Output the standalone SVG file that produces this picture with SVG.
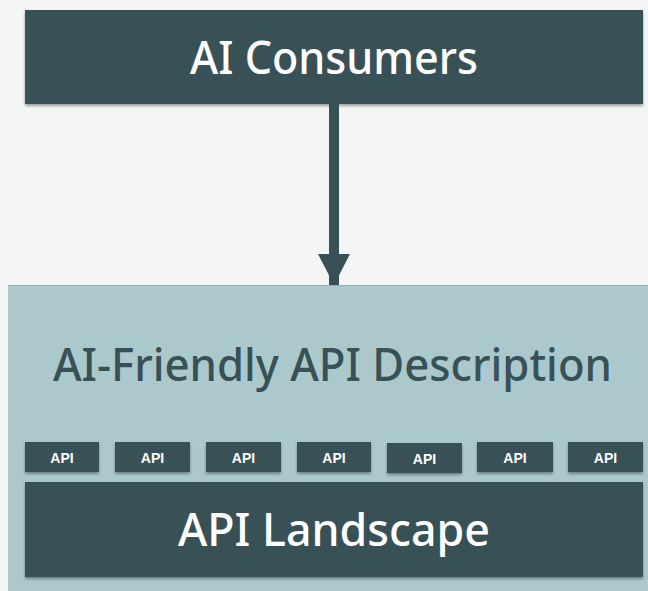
<svg xmlns="http://www.w3.org/2000/svg" width="648" height="591" viewBox="0 0 648 591">
  <defs>
    <filter id="sh" x="-5%" y="-10%" width="110%" height="130%">
      <feDropShadow dx="0" dy="2" stdDeviation="1.5" flood-color="#000" flood-opacity="0.35"/>
    </filter>
    <marker id="ah" markerUnits="userSpaceOnUse" markerWidth="32" markerHeight="32" refX="31" refY="16" orient="auto">
      <path d="M0,0 L31,16 L0,32 Z" fill="#385156"/>
    </marker>
  </defs>
  <style>
    .dark { fill: #385156; }
    .big { font-family: "Noto Sans", "DejaVu Sans", sans-serif; font-size: 46px; font-weight: 500; text-anchor: middle; }
    .api { font-family: "Liberation Sans", Arial, sans-serif; font-size: 14px; font-weight: bold; fill: #ffffff; text-anchor: middle; }
  </style>
  <rect x="0" y="0" width="648" height="591" fill="#f4f6f6"/>

  <g id="ai-friendly-api-description">
    <rect x="8" y="285" width="640" height="306" fill="#abc8cc"/>
    <line x1="8" y1="285.5" x2="648" y2="285.5" stroke="#93adb1" stroke-width="1"/>
    <text x="332.5" y="381" class="big" fill="#385156" textLength="559" lengthAdjust="spacingAndGlyphs">AI-Friendly API Description</text>
  </g>

  <g id="ai-consumers">
    <rect x="25" y="10" width="618" height="94" class="dark" filter="url(#sh)"/>
    <text x="334" y="74" class="big" fill="#ffffff" textLength="288" lengthAdjust="spacingAndGlyphs">AI Consumers</text>
  </g>

  <g id="connectors">
    <line x1="334" y1="104" x2="334" y2="285" stroke="#385156" stroke-width="10" marker-end="url(#ah)"/>
  </g>

  <g id="api-1"><rect x="25" y="442" width="74" height="30" class="dark" filter="url(#sh)"/><text x="62" y="463" class="api">API</text></g>
  <g id="api-2"><rect x="115" y="442" width="75" height="30" class="dark" filter="url(#sh)"/><text x="152.5" y="463" class="api">API</text></g>
  <g id="api-3"><rect x="206" y="442" width="75" height="30" class="dark" filter="url(#sh)"/><text x="243.5" y="463" class="api">API</text></g>
  <g id="api-4"><rect x="297" y="442" width="74" height="30" class="dark" filter="url(#sh)"/><text x="334" y="463" class="api">API</text></g>
  <g id="api-5"><rect x="387" y="443" width="75" height="30" class="dark" filter="url(#sh)"/><text x="424.5" y="464" class="api">API</text></g>
  <g id="api-6"><rect x="477" y="442" width="76" height="30" class="dark" filter="url(#sh)"/><text x="515" y="463" class="api">API</text></g>
  <g id="api-7"><rect x="568" y="442" width="75" height="30" class="dark" filter="url(#sh)"/><text x="605.5" y="463" class="api">API</text></g>

  <g id="api-landscape">
    <rect x="25" y="482" width="618" height="95" class="dark" filter="url(#sh)"/>
    <text x="334" y="546" class="big" fill="#ffffff" textLength="312" lengthAdjust="spacingAndGlyphs">API Landscape</text>
  </g>
</svg>
